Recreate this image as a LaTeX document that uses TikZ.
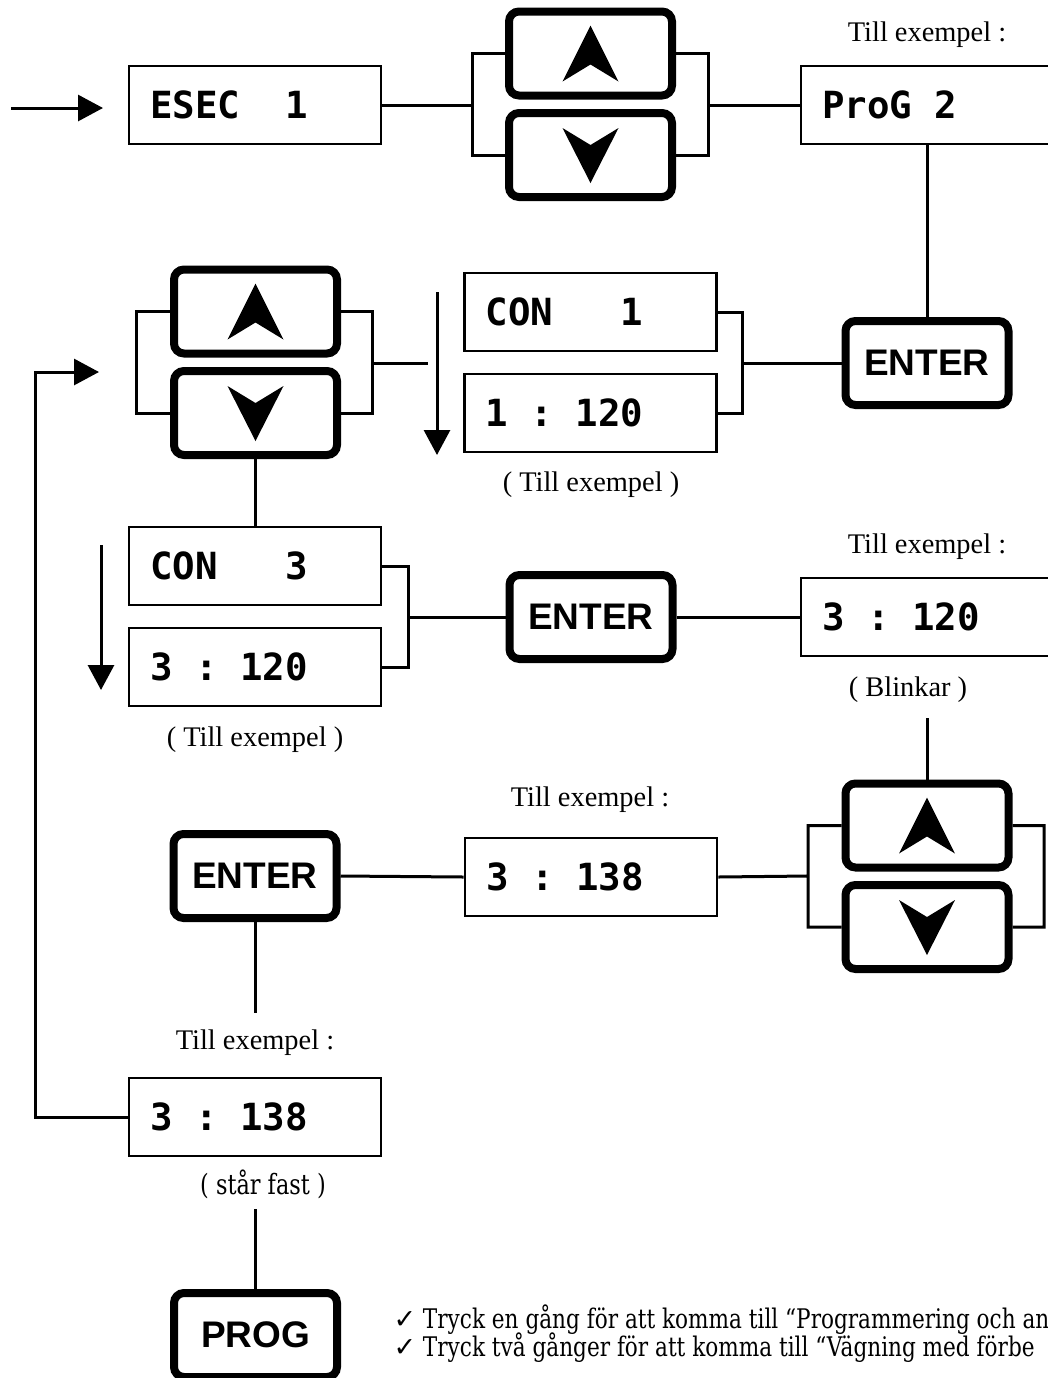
\documentclass[tikz,border=0pt]{standalone}
\usepackage{fontspec}
\setmainfont{Liberation Serif}
\newfontfamily\lcdfont{DejaVu Sans Mono}
\newfontfamily\keyfont{Liberation Sans}
\newfontfamily\notefont[FakeStretch=0.8]{DejaVu Serif}
\newfontfamily\tickfont{DejaVu Sans}
\usetikzlibrary{arrows.meta}
\newcommand\lcdgap{\phantom{0}}

\begin{document}
\begin{tikzpicture}[x=0.5pt, y=-0.5pt, line width=1.5pt,
	>={Triangle[length=12.5pt,width=13pt]},
	lcd/.style={draw, line width=1.3pt, minimum height=39pt, text width=105pt, inner xsep=10.5pt, align=left,
		font=\lcdfont\bfseries\fontsize{18.7}{20}\selectfont},
	key/.style={draw, line width=4pt, rounded corners=5pt, minimum width=81.5pt, minimum height=42pt,
		font=\keyfont\bfseries\fontsize{18.5}{20}\selectfont},
	lbl/.style={font=\fontsize{14.2}{16}\selectfont},
	note/.style={anchor=west, inner sep=0pt, font=\notefont\fontsize{13.5}{15}\selectfont}]
	\useasboundingbox (0,0) rectangle (1048,1378);
	% displays
	\node[lcd] (esec) at (255,105) {ESEC\lcdgap\lcdgap1};
	\node[lcd] (prog2) at (927,105) {ProG\lcdgap2};
	\node[lcd] (con1) at (590.5,312) {CON\lcdgap\lcdgap\lcdgap1};
	\node[lcd] (val1) at (590.5,413) {1\lcdgap:\lcdgap120};
	\node[lcd] (con3) at (255,566) {CON\lcdgap\lcdgap\lcdgap3};
	\node[lcd] (val3) at (255,667) {3\lcdgap:\lcdgap120};
	\node[lcd] (blink) at (927,617) {3\lcdgap:\lcdgap120};
	\node[lcd] (val138) at (591,877) {3\lcdgap:\lcdgap138};
	\node[lcd] (fixed) at (255,1117) {3\lcdgap:\lcdgap138};
	% keys
	\node[key] (upA) at (590.5,53.5) {};
	\node[key] (dnA) at (590.5,155) {};
	\node[key] (upB) at (255.5,311.5) {};
	\node[key] (dnB) at (255.5,413) {};
	\node[key] (upC) at (927,825.5) {};
	\node[key] (dnC) at (927,927) {};
	\node[key] (enter1) at (927,363) {ENTER};
	\node[key] (enter2) at (591,617) {ENTER};
	\node[key] (enter3) at (255,876) {ENTER};
	\node[key] (prog) at (255.5,1335) {PROG};
	% labels
	\node[lbl] (ex1) at (927,35) {Till exempel :};
	\node[lbl] (ex2) at (591,485) {( Till exempel )};
	\node[lbl] (ex3) at (255,740) {( Till exempel )};
	\node[lbl] (ex4) at (927,547) {Till exempel :};
	\node[lbl] (blk) at (908,690) {( Blinkar )};
	\node[lbl] (ex5) at (590,800) {Till exempel :};
	\node[lbl] (ex6) at (255,1043) {Till exempel :};
	\node[font=\notefont\fontsize{14}{16}\selectfont] (fast) at (263,1184) {( står fast )};
	\node[note] (note1) at (392,1320) {{\tickfont ✓} Tryck en gång för att komma till “Programmering och an};
	\node[note] (note2) at (392,1348) {{\tickfont ✓} Tryck två gånger för att komma till “Vägning med förbe};
	\path
	(11,108)coordinate(inS)
	(103,108)coordinate(inE)
	(472,105)coordinate(aL)
	(708,105)coordinate(aR)
	(136,363)coordinate(bL)
	(372,363)coordinate(bR)
	(428,363)coordinate(bE)
	(742,363)coordinate(cR)
	(437,292)coordinate(dn1)
	(437,455)coordinate(dn1e)
	(408,617)coordinate(dR)
	(101,545)coordinate(dn2)
	(101,690)coordinate(dn2e)
	(927,718)coordinate(bk)
	(808,876)coordinate(eL)
	(1044,876)coordinate(eR)
	(255,1013)coordinate(en3)
	(255.5,1209)coordinate(pg)
	(35,372)coordinate(rt)
	(99,372)coordinate(rtE)
	;
	% arrow glyphs on the keys
	\foreach \k in {upA,upB,upC}{
		\fill ([shift={(0,-28)}]\k.center)--([shift={(28,28)}]\k.center)--([shift={(0,11)}]\k.center)--([shift={(-28,28)}]\k.center)--cycle;}
	\foreach \k in {dnA,dnB,dnC}{
		\fill ([shift={(0,28)}]\k.center)--([shift={(28,-27)}]\k.center)--([shift={(0,-10)}]\k.center)--([shift={(-28,-27)}]\k.center)--cycle;}
	% connectors
	\draw[->] (inS)--(inE);
	\draw (esec.east)--(aL);
	\draw (upA.west)-|(aL)|-(dnA.west) (upA.east)-|(aR)|-(dnA.east);
	\draw (aR)--(prog2.west);
	\draw (prog2.south)--(enter1.north);
	\draw (con1.east)-|(cR)|-(val1.east) (cR)--(enter1.west);
	\draw (upB.west)-|(bL)|-(dnB.west) (upB.east)-|(bR)|-(dnB.east) (bR)--(bE);
	\draw[->] (dn1)--(dn1e);
	\draw (dnB.south)--(dnB.south|-con3.north);
	\draw (con3.east)-|(dR)|-(val3.east) (dR)--(enter2.west);
	\draw[->] (dn2)--(dn2e);
	\draw (enter2.east)--(blink.west);
	\draw (bk)--(upC.north);
	\draw (upC.west)-|(eL)|-(dnC.west) (upC.east)-|(eR)|-(dnC.east) (eL)--(val138.east);
	\draw (val138.west)--(enter3.east);
	\draw (enter3.south)--(en3);
	\draw[->] (fixed.west)-|(rt)--(rtE);
	\draw (pg)--(prog.north);
\end{tikzpicture}
\end{document}
